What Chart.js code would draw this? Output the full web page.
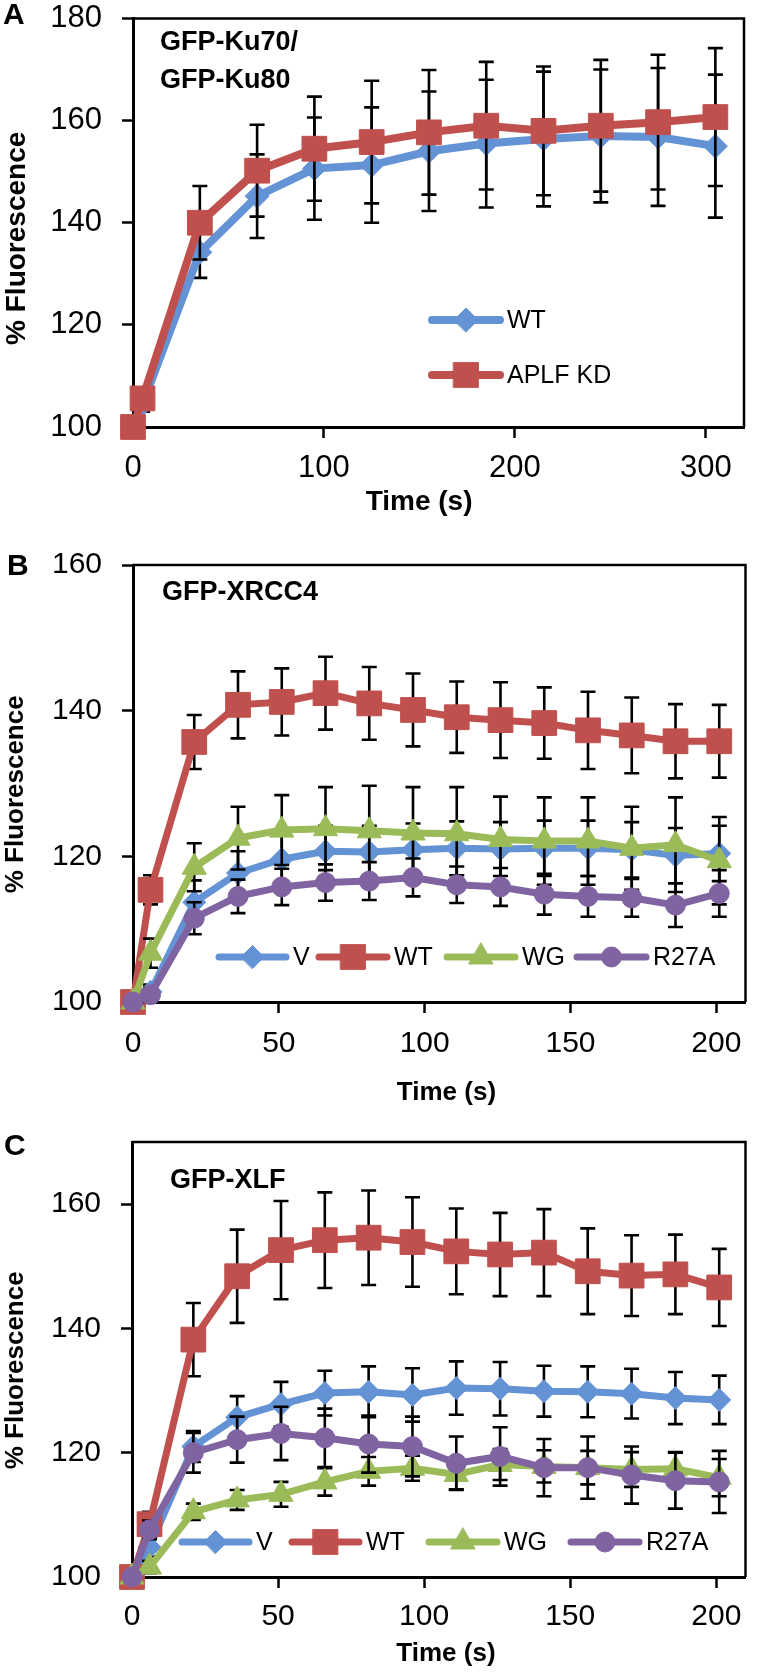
<!DOCTYPE html>
<html>
<head>
<meta charset="utf-8">
<script src="https://cdn.jsdelivr.net/npm/chart.js@4.4.1/dist/chart.umd.min.js"></script>
<style>
  body { margin: 0; background: #fff; }
  canvas.panel { position: absolute; left: 0; }
</style>
</head>
<body>
<canvas id="chartA" class="panel" width="764" height="520" style="top:0px"></canvas>
<canvas id="chartB" class="panel" width="764" height="570" style="top:540px"></canvas>
<canvas id="chartC" class="panel" width="764" height="561" style="top:1115px"></canvas>
<script>
// ---- data ----
const timeA = [0, 5, 35, 65, 95, 125, 155, 185, 215, 245, 275, 305];
const wtA = [100, 104.5, 134.2, 145.2, 150.6, 151.3, 154, 155.5, 156.4, 157, 156.8, 155];
const wtErrA = [0, 1.5, 5, 8.2, 10, 11.3, 11.7, 12.5, 13.2, 13, 13.5, 14];
const kdA = [100, 105.6, 140, 150.2, 154.5, 155.8, 157.7, 159, 158, 159, 159.7, 160.7];
const kdErrA = [0, 1.5, 7.2, 9, 10.2, 12, 12.2, 12.5, 12.6, 12.9, 13.2, 13.5];

const timeB = [0, 6, 21, 36, 51, 66, 81, 96, 111, 126, 141, 156, 171, 186, 201];
const vB = [100, 101.4, 113.7, 117.7, 119.6, 120.7, 120.6, 120.9, 121.1, 121, 121.1, 121.1, 120.9, 120.1, 120.4];
const vErrB = [0, 1, 3, 3, 3.5, 3.5, 3.6, 3.6, 3.7, 3.7, 3.8, 3.8, 3.8, 3.8, 3.8];
const wtB = [100, 115.4, 135.7, 140.8, 141.2, 142.4, 141, 140.1, 139.1, 138.7, 138.3, 137.3, 136.6, 135.8, 135.8];
const wtErrB = [0, 2, 3.7, 4.6, 4.6, 5, 5, 5, 4.9, 5.2, 4.9, 5.3, 5.2, 5.1, 5];
const wgB = [100, 106.7, 118.5, 122.5, 123.6, 123.8, 123.5, 123.2, 123.1, 122.3, 122.1, 122.1, 121.1, 121.6, 119.4];
const wgErrB = [0, 2, 3.3, 4.3, 4.8, 5.7, 6.2, 6.3, 6.4, 5.9, 6, 6, 5.7, 6.5, 6];
const rB = [100, 101, 111.5, 114.5, 115.8, 116.4, 116.6, 117.1, 116.1, 115.8, 114.8, 114.5, 114.3, 113.3, 114.9];
const rErrB = [0, 1, 2.2, 2.3, 2.5, 2.5, 2.6, 2.6, 2.5, 2.6, 2.8, 2.8, 2.6, 3, 3.2];

const timeC = [0, 6, 21, 36, 51, 66, 81, 96, 111, 126, 141, 156, 171, 186, 201];
const vC = [100, 104.8, 121, 125.7, 127.8, 129.6, 129.8, 129.3, 130.4, 130.3, 129.9, 129.8, 129.5, 128.8, 128.5];
const vErrC = [0, 1.5, 2.5, 3.4, 3.6, 3.6, 4.1, 4.3, 4.3, 4.3, 4.1, 4.1, 4, 4.2, 3.9];
const wtC = [100, 108.5, 138.2, 148.4, 152.6, 154.2, 154.6, 153.9, 152.4, 151.9, 152.2, 149.2, 148.5, 148.7, 146.6];
const wtErrC = [0, 2, 5.9, 7.5, 7.9, 7.7, 7.6, 7.2, 6.9, 6.7, 7, 6.9, 6.5, 6.4, 6.2];
const wgC = [100, 101.6, 110.5, 112.4, 113.3, 115.3, 117, 117.5, 116.5, 118.1, 117.8, 117.6, 117.3, 117.4, 116];
const wgErrC = [0, 1, 1.3, 1.6, 2, 2.2, 2.3, 2, 2.4, 2.5, 2.6, 2.7, 2.8, 2.7, 3];
const rC = [100, 107.6, 120, 122.1, 123.1, 122.4, 121.4, 121, 118.3, 119.4, 117.6, 117.6, 116.4, 115.5, 115.3];
const rErrC = [0, 1.5, 3.2, 3.7, 4.3, 4.7, 4.6, 4.8, 4.3, 4.7, 4.6, 5, 4.6, 4.5, 5];

const xTicksA = [0, 100, 200, 300];
const xTicksBC = [0, 50, 100, 150, 200];

const FONT = "'Liberation Sans', Arial, Helvetica, sans-serif";
const BLUE = 'rgb(99,146,213)';
const RED = 'rgb(192,80,77)';
const GREEN = 'rgb(155,187,89)';
const PURPLE = 'rgb(128,100,162)';

function pts(xs, ys) {
    return xs.map((x, i) => ({ x: x, y: ys[i] }));
}

function series(label, xs, ys, err, color, style, radius, order, lw) {
    return {
        label: label,
        data: pts(xs, ys),
        err: err,
        borderColor: color,
        backgroundColor: color,
        pointBackgroundColor: color,
        pointBorderColor: color,
        pointBorderWidth: 1,
        pointStyle: style,
        pointRadius: radius,
        borderWidth: lw || 7,
        tension: 0,
        clip: false,
        order: order
    };
}

// error bars, box frame, panel letter, inner title and legend
const panelDecor = {
    id: 'panelDecor',
    beforeDatasetsDraw(chart) {
        const a = chart.chartArea, ctx = chart.ctx;
        ctx.save();
        ctx.strokeStyle = '#000';
        ctx.lineWidth = 2.5;
        ctx.beginPath();
        ctx.moveTo(a.left, a.top);
        ctx.lineTo(a.right, a.top);
        ctx.lineTo(a.right, a.bottom);
        ctx.stroke();
        ctx.restore();
    },
    beforeDatasetDraw(chart, args) {
        const ds = chart.data.datasets[args.index];
        if (!ds.err) return;
        const ys = chart.scales.y, ctx = chart.ctx;
        ctx.save();
        ctx.strokeStyle = '#000';
        ctx.lineWidth = 2.6;
        args.meta.data.forEach((p, i) => {
            const e = ds.err[i];
            if (!e) return;
            const v = ds.data[i].y;
            const t = ys.getPixelForValue(v + e), b = ys.getPixelForValue(v - e);
            ctx.beginPath();
            ctx.moveTo(p.x, t); ctx.lineTo(p.x, b);
            ctx.moveTo(p.x - 7.5, t); ctx.lineTo(p.x + 7.5, t);
            ctx.moveTo(p.x - 7.5, b); ctx.lineTo(p.x + 7.5, b);
            ctx.stroke();
        });
        ctx.restore();
    },
    afterDraw(chart, args, o) {
        const ctx = chart.ctx;
        ctx.save();
        ctx.fillStyle = '#000';
        ctx.textBaseline = 'middle';
        ctx.textAlign = 'left';
        ctx.font = 'bold 30px ' + FONT;
        ctx.fillText(o.letter, o.letterX, o.letterY);

        ctx.textBaseline = 'alphabetic';
        ctx.font = 'bold 27px ' + FONT;
        o.title.forEach((line, i) => ctx.fillText(line, o.titleX, o.titleY + i * 38));

        ctx.font = '25px ' + FONT;
        o.legend.forEach(it => {
            const ds = chart.data.datasets[it.index];
            ctx.strokeStyle = ds.borderColor;
            ctx.lineWidth = ds.borderWidth;
            ctx.lineCap = 'round';
            ctx.beginPath();
            ctx.moveTo(it.x1, it.y);
            ctx.lineTo(it.x2, it.y);
            ctx.stroke();
            ctx.fillStyle = ds.backgroundColor;
            ctx.lineWidth = 1;
            Chart.helpers.drawPoint(ctx, {
                pointStyle: ds.pointStyle, radius: ds.pointRadius, borderWidth: 1, rotation: 0
            }, (it.x1 + it.x2) / 2, it.y);
            ctx.fillStyle = '#000';
            ctx.textBaseline = 'middle';
            ctx.fillText(ds.label, it.x2 + 7, it.y + 1);
        });
        ctx.restore();
    }
};

function makePanel(id, o) {
    const canvas = document.getElementById(id);
    const h = canvas.height;
    return new Chart(canvas, {
        type: 'line',
        data: { datasets: o.datasets },
        options: {
            responsive: false,
            animation: false,
            devicePixelRatio: 1,
            events: [],
            layout: { padding: { left: 0, top: o.top, right: 764 - o.right, bottom: 0 } },
            scales: {
                x: {
                    type: 'linear', min: 0, max: o.xMax,
                    afterBuildTicks(s) { s.ticks = o.xTicks.map(v => ({ value: v })); },
                    ticks: { color: '#000', font: { family: FONT, size: o.tick }, padding: o.xPad, maxRotation: 0 },
                    grid: { drawOnChartArea: false, color: '#000', tickLength: 11, tickWidth: 2.5 },
                    border: { color: '#000', width: 3 },
                    title: { display: true, text: o.xTitle, color: '#000',
                        font: { family: FONT, size: o.axisTitle, weight: 'bold' },
                        padding: { top: 0, bottom: o.xTitlePad } },
                    afterFit(s) { s.height = h - o.bottom; s.paddingLeft = 0; s.paddingRight = 0; }
                },
                y: {
                    type: 'linear', min: 100, max: o.yMax,
                    ticks: { stepSize: 20, includeBounds: false, color: '#000',
                        font: { family: FONT, size: o.tick }, padding: 20 },
                    grid: { drawOnChartArea: false, color: '#000', tickLength: 11, tickWidth: 2.5 },
                    border: { color: '#000', width: 3 },
                    title: { display: true, text: o.yTitle, color: '#000',
                        font: { family: FONT, size: o.axisTitle, weight: 'bold' },
                        padding: { top: 0, bottom: 0 } },
                    afterFit(s) { s.width = o.left; s.paddingTop = 0; s.paddingBottom = 0; }
                }
            },
            plugins: {
                legend: { display: false },
                tooltip: { enabled: false },
                panelDecor: o.decor
            }
        },
        plugins: [panelDecor]
    });
}

// spaces nudge the axis titles off-centre, as in the figure
makePanel('chartA', {
    top: 13, bottom: 427, left: 133, right: 744,
    xMax: 320, yMax: 180, xTicks: xTicksA,
    tick: 31, axisTitle: 28, xPad: 12, xTitlePad: 1,
    xTitle: 'Time (s)     ', yTitle: '% Fluorescence    ',
    datasets: [
        series('WT', timeA, wtA, wtErrA, BLUE, 'rectRot', 12, 1, 8),
        series('APLF KD', timeA, kdA, kdErrA, RED, 'rect', 17.5, 0, 8)
    ],
    decor: {
        letter: 'A', letterX: 3, letterY: 16,
        title: ['GFP-Ku70/', 'GFP-Ku80'], titleX: 160, titleY: 50,
        legend: [
            { index: 0, x1: 432, x2: 500, y: 320 },
            { index: 1, x1: 432, x2: 500, y: 375 }
        ]
    }
});

makePanel('chartB', {
    top: 25, bottom: 462, left: 133, right: 757,
    xMax: 210, yMax: 160, xTicks: xTicksBC,
    tick: 30, axisTitle: 26, xPad: 13, xTitlePad: 2,
    xTitle: '  Time (s)', yTitle: '% Fluorescence   ',
    datasets: [
        series('V', timeB, vB, vErrB, BLUE, 'rectRot', 11.5, 3),
        series('WT', timeB, wtB, wtErrB, RED, 'rect', 17.5, 2),
        series('WG', timeB, wgB, wgErrB, GREEN, 'triangle', 14, 1),
        series('R27A', timeB, rB, rErrB, PURPLE, 'circle', 10, 0)
    ],
    decor: {
        letter: 'B', letterX: 7, letterY: 27,
        title: ['GFP-XRCC4'], titleX: 162, titleY: 60,
        legend: [
            { index: 0, x1: 219, x2: 286, y: 417 },
            { index: 1, x1: 319, x2: 387, y: 417 },
            { index: 2, x1: 447, x2: 515, y: 417 },
            { index: 3, x1: 577, x2: 646, y: 417 }
        ]
    }
});

makePanel('chartC', {
    top: 27, bottom: 462, left: 132, right: 750,
    xMax: 210, yMax: 170, xTicks: xTicksBC,
    tick: 30, axisTitle: 26, xPad: 11, xTitlePad: 7,
    xTitle: '  Time (s)', yTitle: '% Fluorescence   ',
    datasets: [
        series('V', timeC, vC, vErrC, BLUE, 'rectRot', 11.5, 3),
        series('WT', timeC, wtC, wtErrC, RED, 'rect', 17.5, 2),
        series('WG', timeC, wgC, wgErrC, GREEN, 'triangle', 14, 1),
        series('R27A', timeC, rC, rErrC, PURPLE, 'circle', 10, 0)
    ],
    decor: {
        letter: 'C', letterX: 4, letterY: 32,
        title: ['GFP-XLF'], titleX: 170, titleY: 73,
        legend: [
            { index: 0, x1: 182, x2: 249, y: 427 },
            { index: 1, x1: 292, x2: 359, y: 427 },
            { index: 2, x1: 429, x2: 497, y: 427 },
            { index: 3, x1: 571, x2: 639, y: 427 }
        ]
    }
});
</script>
</body>
</html>
